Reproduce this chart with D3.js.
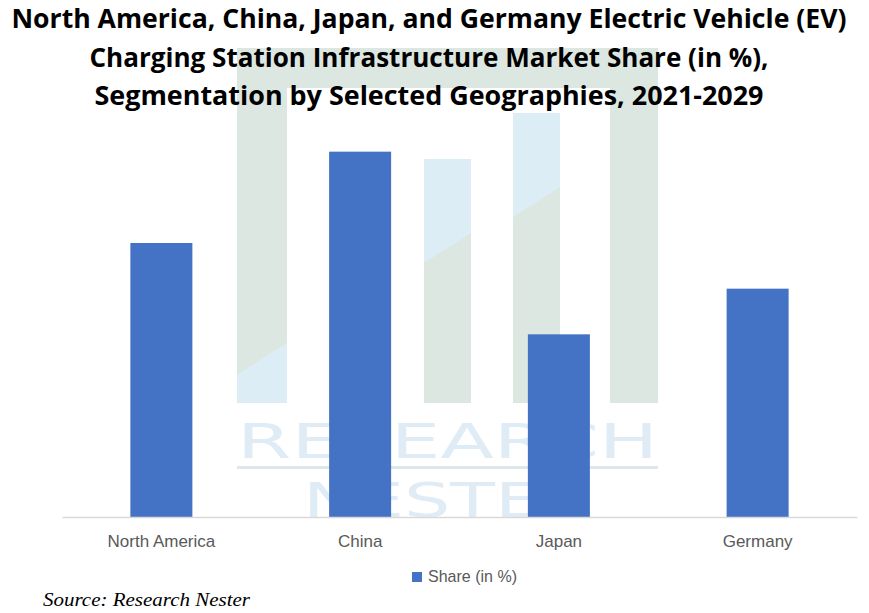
<!DOCTYPE html>
<html>
<head>
<meta charset="utf-8">
<script src="https://cdn.jsdelivr.net/npm/d3@7/dist/d3.min.js"></script>
<style>
  html, body { margin: 0; padding: 0; background: #ffffff; }
  svg { display: block; }
</style>
</head>
<body>
<div id="chart"></div>
<script>
// ---- Data ----
const categories = ["North America", "China", "Japan", "Germany"];
const shareValues = [30, 40, 20, 25];
const seriesName = "Share (in %)";
const titleLines = [
  "North America, China, Japan, and Germany Electric Vehicle (EV)",
  "Charging Station Infrastructure Market Share (in %),",
  "Segmentation by Selected Geographies, 2021-2029"
];
const sourceText = "Source: Research Nester";

// ---- Layout ----
const W = 869, H = 613;
const svg = d3.select("#chart").append("svg").attr("width", W).attr("height", H);

// ---- Watermark (background logo) ----
const wm = svg.append("g").attr("class", "watermark");
const green = "#dce7e1", blue = "#ddedf6";
wm.append("rect").attr("x", 237).attr("y", 48).attr("width", 421).attr("height", 40).attr("fill", green);
wm.append("rect").attr("x", 237).attr("y", 48).attr("width", 50).attr("height", 355).attr("fill", green);
wm.append("polygon").attr("points", "237,375 287,343 287,403 237,403").attr("fill", blue);
wm.append("rect").attr("x", 610).attr("y", 48).attr("width", 48).attr("height", 355).attr("fill", green);
wm.append("rect").attr("x", 424).attr("y", 159).attr("width", 47).attr("height", 244).attr("fill", blue);
wm.append("polygon").attr("points", "424,263 471,233 471,403 424,403").attr("fill", green);
wm.append("rect").attr("x", 513).attr("y", 113).attr("width", 47).attr("height", 290).attr("fill", blue);
wm.append("polygon").attr("points", "513,217 560,187 560,403 513,403").attr("fill", green);
wm.append("text").attr("x", 237).attr("y", 458).attr("textLength", 421).attr("lengthAdjust", "spacingAndGlyphs")
  .style("font-family", "DejaVu Sans").style("font-size", "48px")
  .attr("fill", "#e0ecf5").text("RESEARCH");
wm.append("rect").attr("x", 237).attr("y", 466).attr("width", 421).attr("height", 3).attr("fill", "#dce8ea");
wm.append("text").attr("x", 303).attr("y", 517).attr("textLength", 289).attr("lengthAdjust", "spacingAndGlyphs")
  .style("font-family", "DejaVu Sans").style("font-size", "48px")
  .attr("fill", "#e0ecf5").text("NESTER");

// ---- Scales ----
const x = d3.scaleBand().domain(categories).range([62, 857]).paddingInner(0.688).paddingOuter(0.344);
const y = d3.scaleLinear().domain([0, 45]).range([517, 106]);

// ---- Bars ----
svg.append("g").selectAll("rect").data(categories).join("rect")
  .attr("x", d => x(d))
  .attr("y", (d, i) => y(shareValues[i]))
  .attr("width", x.bandwidth())
  .attr("height", (d, i) => y(0) - y(shareValues[i]))
  .attr("fill", "#4472c4");

// ---- X axis ----
const xAxis = svg.append("g").attr("transform", `translate(0,${y(0)})`)
  .call(d3.axisBottom(x).tickSize(0));
xAxis.select(".domain").attr("stroke", "#d9d9d9").attr("stroke-width", 1.3);
xAxis.selectAll("text")
  .attr("y", 30).attr("dy", null)
  .style("font-family", "Liberation Sans, Arial, sans-serif")
  .style("font-size", "17px")
  .attr("fill", "#595959");

// ---- Title ----
const titleWidths = [835, 679, 669];
const titleBaselines = [28, 67, 105];
svg.append("g").selectAll("text").data(titleLines).join("text")
  .attr("x", 429)
  .attr("y", (d, i) => titleBaselines[i])
  .attr("text-anchor", "middle")
  .attr("textLength", (d, i) => titleWidths[i])
  .attr("lengthAdjust", "spacingAndGlyphs")
  .style("font-family", "Open Sans, sans-serif")
  .style("font-weight", "bold")
  .style("font-size", "27px")
  .attr("fill", "#000000")
  .text(d => d);

// ---- Legend ----
const lg = svg.append("g");
lg.append("rect").attr("x", 412).attr("y", 572).attr("width", 10).attr("height", 10).attr("fill", "#4472c4");
lg.append("text").attr("x", 428).attr("y", 582)
  .attr("textLength", 89).attr("lengthAdjust", "spacingAndGlyphs")
  .style("font-family", "Liberation Sans, Arial, sans-serif").style("font-size", "17px")
  .attr("fill", "#595959").text(seriesName);

// ---- Source ----
svg.append("text").attr("x", 43).attr("y", 606)
  .attr("textLength", 207).attr("lengthAdjust", "spacingAndGlyphs")
  .style("font-family", "Liberation Serif, serif").style("font-style", "italic").style("font-size", "19px")
  .attr("fill", "#000000").text(sourceText);
</script>
</body>
</html>
